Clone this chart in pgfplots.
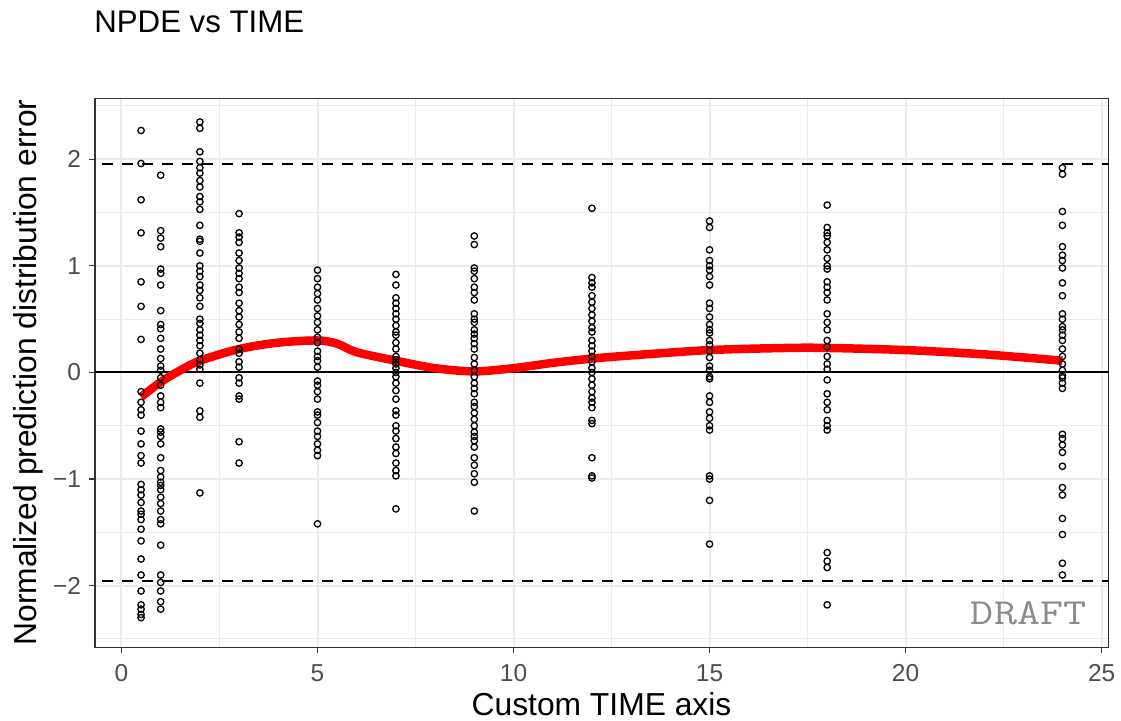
\documentclass[border=0pt]{standalone}
\usepackage{fontspec}
\setmainfont{Liberation Sans}
\usepackage{pgfplots}
\pgfplotsset{compat=1.18}
\definecolor{gridc}{HTML}{EBEBEB}
\definecolor{framec}{HTML}{333333}
\definecolor{ticklab}{HTML}{4D4D4D}
\begin{document}
\begin{tikzpicture}
\useasboundingbox (0pt,0pt) rectangle (560.5pt,360.5pt);
\node[anchor=base west, inner sep=0pt, font=\fontsize{15.6}{18}\selectfont] at (47pt,344pt) {NPDE vs TIME};
\node[anchor=base, inner sep=0pt, font=\fontsize{15.9}{18}\selectfont] at (300.75pt,2.5pt) {Custom TIME axis};
\node[anchor=base, inner sep=0pt, rotate=90, font=\fontsize{15.9}{18}\selectfont] at (18pt,174.25pt) {Normalized prediction distribution error};
\begin{axis}[
  at={(47.5pt,36.75pt)}, anchor=south west, scale only axis,
  width=506.75pt, height=274.5pt,
  xmin=-0.675, xmax=25.175, ymin=-2.58, ymax=2.57,
  xtick={0,5,10,15,20,25},
  ytick={-2,-1,0,1,2},
  yticklabels={−2,−1,0,1,2},
  minor xtick={2.5,7.5,12.5,17.5,22.5},
  minor ytick={-2.5,-1.5,-0.5,0.5,1.5,2.5},
  grid=both,
  major grid style={gridc, line width=1pt},
  minor grid style={gridc, line width=0.5pt},
  axis line style={framec, line width=0.6pt},
  tick align=outside,
  major tick length=2.75pt, minor tick length=0pt,
  tick style={framec, line width=0.6pt},
  xtick pos=bottom, ytick pos=left,
  /pgf/number format/assume math mode=true,
  tick label style={font=\fontsize{12.25}{14}\selectfont, text=ticklab},
  xticklabel style={inner sep=0pt, anchor=north, yshift=-5.5pt},
  yticklabel style={inner sep=0pt, anchor=east, xshift=-4pt},
  clip=true,
]
\addplot[black, line width=1pt, dash pattern=on 5.5pt off 4.5pt] coordinates {(-1,1.96) (26,1.96)};
\addplot[black, line width=1pt, dash pattern=on 5.5pt off 4.5pt] coordinates {(-1,-1.96) (26,-1.96)};
\addplot[black, line width=1pt] coordinates {(-1,0) (26,0)};
\addplot[only marks, mark=o, mark size=1.6pt, mark options={black, line width=0.65pt}] table[row sep=\\] {
x y\\
0.5 2.27\\ 0.5 1.96\\ 0.5 1.62\\ 0.5 1.31\\ 0.5 0.85\\ 0.5 0.62\\ 0.5 0.31\\ 0.5 -0.18\\ 0.5 -0.28\\ 0.5 -0.35\\ 0.5 -0.40\\ 0.5 -0.55\\ 0.5 -0.67\\ 0.5 -0.78\\ 0.5 -0.85\\ 0.5 -1.05\\ 0.5 -1.10\\ 0.5 -1.15\\ 0.5 -1.22\\ 0.5 -1.30\\ 0.5 -1.33\\ 0.5 -1.38\\ 0.5 -1.47\\ 0.5 -1.58\\ 0.5 -1.75\\ 0.5 -1.90\\ 0.5 -2.05\\ 0.5 -2.18\\ 0.5 -2.22\\ 0.5 -2.27\\ 0.5 -2.30\\
1 1.85\\ 1 1.33\\ 1 1.26\\ 1 1.18\\ 1 0.97\\ 1 0.93\\ 1 0.82\\ 1 0.58\\ 1 0.45\\ 1 0.41\\ 1 0.32\\ 1 0.22\\ 1 0.13\\ 1 0.06\\ 1 0.02\\ 1 -0.05\\ 1 -0.12\\ 1 -0.22\\ 1 -0.28\\ 1 -0.33\\ 1 -0.53\\ 1 -0.56\\ 1 -0.60\\ 1 -0.67\\ 1 -0.80\\ 1 -0.92\\ 1 -0.98\\ 1 -1.03\\ 1 -1.06\\ 1 -1.10\\ 1 -1.17\\ 1 -1.23\\ 1 -1.30\\ 1 -1.38\\ 1 -1.42\\ 1 -1.62\\ 1 -1.90\\ 1 -1.97\\ 1 -2.05\\ 1 -2.15\\ 1 -2.22\\
2 2.35\\ 2 2.29\\ 2 2.07\\ 2 1.98\\ 2 1.92\\ 2 1.87\\ 2 1.80\\ 2 1.74\\ 2 1.65\\ 2 1.60\\ 2 1.53\\ 2 1.38\\ 2 1.25\\ 2 1.23\\ 2 1.12\\ 2 1.00\\ 2 0.95\\ 2 0.90\\ 2 0.82\\ 2 0.77\\ 2 0.70\\ 2 0.62\\ 2 0.50\\ 2 0.46\\ 2 0.40\\ 2 0.35\\ 2 0.30\\ 2 0.25\\ 2 0.18\\ 2 0.12\\ 2 0.07\\ 2 0.03\\ 2 -0.10\\ 2 -0.36\\ 2 -0.42\\ 2 -1.13\\
3 1.49\\ 3 1.31\\ 3 1.27\\ 3 1.22\\ 3 1.12\\ 3 1.05\\ 3 0.98\\ 3 0.93\\ 3 0.88\\ 3 0.80\\ 3 0.75\\ 3 0.65\\ 3 0.58\\ 3 0.52\\ 3 0.45\\ 3 0.38\\ 3 0.32\\ 3 0.22\\ 3 0.18\\ 3 0.10\\ 3 0.05\\ 3 -0.05\\ 3 -0.10\\ 3 -0.22\\ 3 -0.25\\ 3 -0.65\\ 3 -0.85\\
5 0.96\\ 5 0.88\\ 5 0.80\\ 5 0.74\\ 5 0.68\\ 5 0.60\\ 5 0.53\\ 5 0.47\\ 5 0.40\\ 5 0.33\\ 5 0.28\\ 5 0.20\\ 5 0.15\\ 5 0.11\\ 5 0.05\\ 5 -0.08\\ 5 -0.12\\ 5 -0.18\\ 5 -0.25\\ 5 -0.37\\ 5 -0.40\\ 5 -0.47\\ 5 -0.55\\ 5 -0.60\\ 5 -0.67\\ 5 -0.73\\ 5 -0.78\\ 5 -1.42\\
7 0.92\\ 7 0.82\\ 7 0.70\\ 7 0.65\\ 7 0.60\\ 7 0.55\\ 7 0.50\\ 7 0.44\\ 7 0.38\\ 7 0.35\\ 7 0.28\\ 7 0.22\\ 7 0.15\\ 7 0.12\\ 7 0.08\\ 7 0.04\\ 7 0.00\\ 7 -0.04\\ 7 -0.10\\ 7 -0.17\\ 7 -0.25\\ 7 -0.36\\ 7 -0.40\\ 7 -0.50\\ 7 -0.55\\ 7 -0.62\\ 7 -0.70\\ 7 -0.76\\ 7 -0.85\\ 7 -0.92\\ 7 -0.97\\ 7 -1.28\\
9 1.28\\ 9 1.20\\ 9 0.98\\ 9 0.95\\ 9 0.88\\ 9 0.80\\ 9 0.75\\ 9 0.68\\ 9 0.55\\ 9 0.50\\ 9 0.47\\ 9 0.40\\ 9 0.36\\ 9 0.32\\ 9 0.27\\ 9 0.22\\ 9 0.14\\ 9 0.08\\ 9 0.02\\ 9 -0.04\\ 9 -0.10\\ 9 -0.15\\ 9 -0.20\\ 9 -0.28\\ 9 -0.32\\ 9 -0.38\\ 9 -0.44\\ 9 -0.50\\ 9 -0.56\\ 9 -0.60\\ 9 -0.64\\ 9 -0.70\\ 9 -0.80\\ 9 -0.87\\ 9 -0.95\\ 9 -1.03\\ 9 -1.30\\
12 1.54\\ 12 0.89\\ 12 0.84\\ 12 0.80\\ 12 0.72\\ 12 0.66\\ 12 0.60\\ 12 0.54\\ 12 0.48\\ 12 0.42\\ 12 0.38\\ 12 0.30\\ 12 0.25\\ 12 0.20\\ 12 0.15\\ 12 0.10\\ 12 0.04\\ 12 0.00\\ 12 -0.06\\ 12 -0.12\\ 12 -0.18\\ 12 -0.24\\ 12 -0.28\\ 12 -0.33\\ 12 -0.45\\ 12 -0.48\\ 12 -0.80\\ 12 -0.97\\ 12 -0.99\\
15 1.42\\ 15 1.36\\ 15 1.15\\ 15 1.05\\ 15 1.00\\ 15 0.96\\ 15 0.90\\ 15 0.82\\ 15 0.65\\ 15 0.60\\ 15 0.52\\ 15 0.45\\ 15 0.40\\ 15 0.37\\ 15 0.30\\ 15 0.26\\ 15 0.20\\ 15 0.14\\ 15 0.06\\ 15 0.02\\ 15 -0.04\\ 15 -0.06\\ 15 -0.22\\ 15 -0.28\\ 15 -0.37\\ 15 -0.43\\ 15 -0.50\\ 15 -0.54\\ 15 -0.97\\ 15 -1.00\\ 15 -1.20\\ 15 -1.61\\
18 1.57\\ 18 1.36\\ 18 1.31\\ 18 1.28\\ 18 1.22\\ 18 1.15\\ 18 1.07\\ 18 1.00\\ 18 0.97\\ 18 0.85\\ 18 0.80\\ 18 0.75\\ 18 0.68\\ 18 0.55\\ 18 0.47\\ 18 0.40\\ 18 0.30\\ 18 0.24\\ 18 0.15\\ 18 0.08\\ 18 0.03\\ 18 -0.07\\ 18 -0.20\\ 18 -0.28\\ 18 -0.35\\ 18 -0.45\\ 18 -0.50\\ 18 -0.54\\ 18 -1.69\\ 18 -1.77\\ 18 -1.83\\ 18 -2.18\\
24 1.92\\ 24 1.86\\ 24 1.51\\ 24 1.38\\ 24 1.18\\ 24 1.10\\ 24 1.05\\ 24 0.98\\ 24 0.84\\ 24 0.72\\ 24 0.55\\ 24 0.50\\ 24 0.43\\ 24 0.40\\ 24 0.35\\ 24 0.30\\ 24 0.22\\ 24 0.15\\ 24 0.08\\ 24 0.02\\ 24 -0.03\\ 24 -0.05\\ 24 -0.10\\ 24 -0.15\\ 24 -0.58\\ 24 -0.62\\ 24 -0.68\\ 24 -0.75\\ 24 -0.88\\ 24 -1.08\\ 24 -1.15\\ 24 -1.37\\ 24 -1.52\\ 24 -1.79\\ 24 -1.90\\
};
\addplot[red, line width=4.25pt, smooth, line join=round] coordinates {
(0.5,-0.23) (1,-0.09) (1.5,0.02) (2,0.11) (3,0.22) (4,0.28) (5,0.30) (5.5,0.27) (6,0.19) (7,0.11) (8,0.04) (9,0.01) (10,0.04) (11,0.09) (12,0.13) (13,0.16) (15,0.21) (17,0.23) (18,0.23) (20,0.21) (22,0.17) (24,0.11)
};
\node[anchor=base east, inner sep=0pt, xscale=1.12, yscale=0.92, text={rgb,255:red,140;green,140;blue,140}, font=\ttfamily\fontsize{20}{22}\selectfont] at (axis cs:24.62,-2.36) {DRAFT};
\end{axis}
\end{tikzpicture}
\end{document}
